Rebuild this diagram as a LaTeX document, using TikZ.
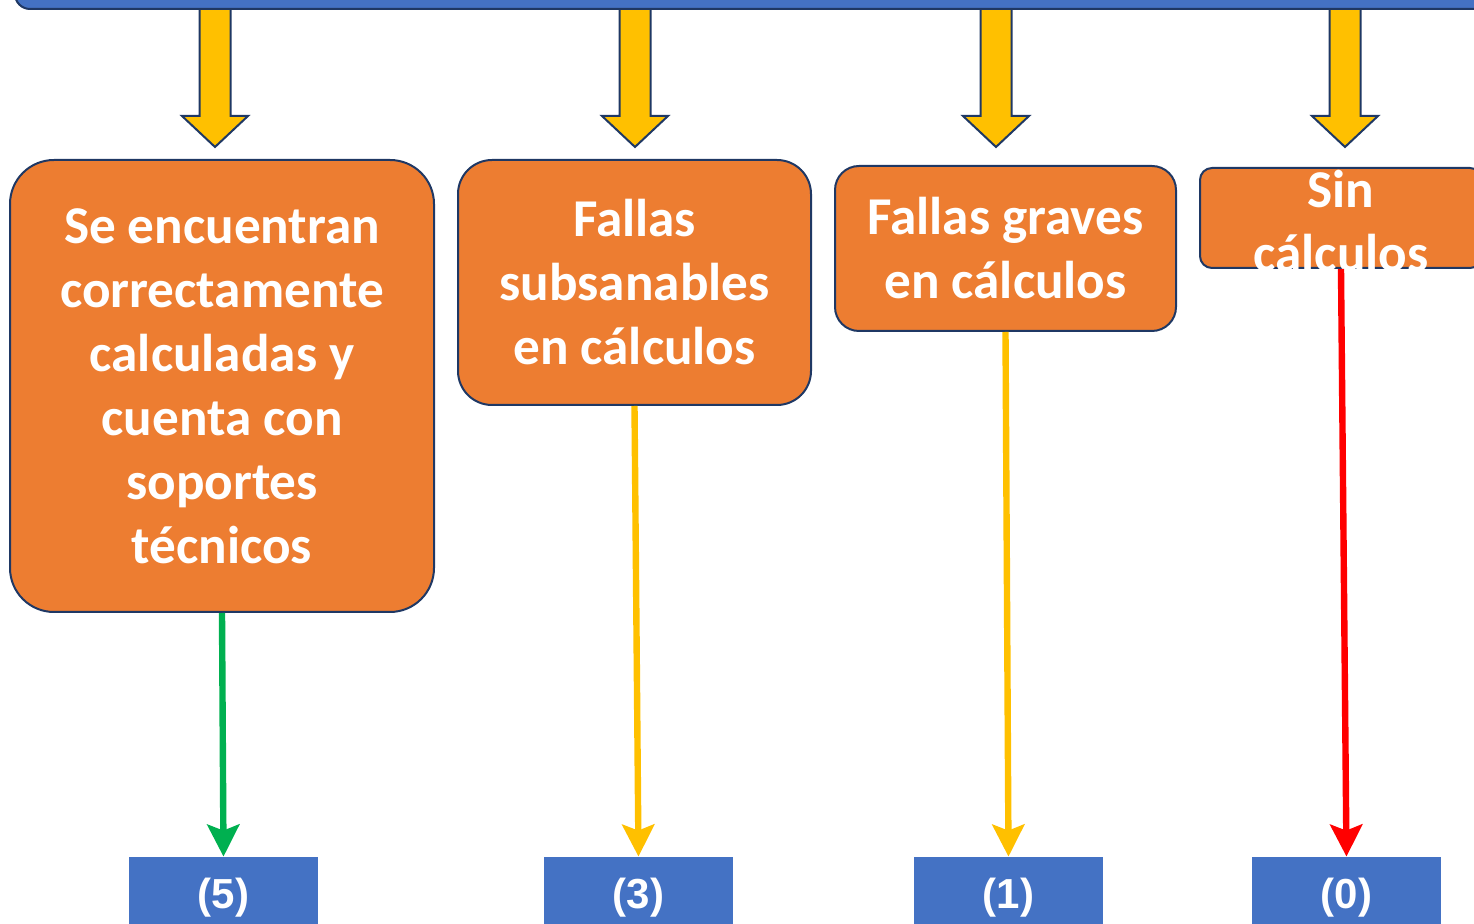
\documentclass[tikz,border=0pt]{standalone}
\usepackage{fontspec}
\setmainfont{Carlito}
\newfontfamily\numfont{Liberation Sans}
\usepackage{xcolor}
\usepackage{tikz}
\usetikzlibrary{arrows.meta,positioning}

\definecolor{boxorange}{HTML}{ED7D31}
\definecolor{barblue}{HTML}{4472C4}
\definecolor{navy}{HTML}{1F3864}
\definecolor{gold}{HTML}{FFC000}
\definecolor{okgreen}{HTML}{00B050}
\definecolor{badred}{HTML}{FF0000}

\begin{document}
\begin{tikzpicture}[x=0.5pt, y=-0.5pt,
    critbox/.style={draw=navy, line width=1pt, fill=boxorange, text=white,
        font=\fontsize{26.6pt}{32pt}\selectfont\bfseries, align=center, inner sep=0pt},
    scorebox/.style={fill=barblue, text=white, minimum width=94.5pt, minimum height=41pt,
        font=\numfont\fontsize{21pt}{24pt}\selectfont\bfseries, inner sep=0pt},
    blockarrow/.style={draw=navy, line width=1pt, fill=gold, line join=miter},
    result/.style={line width=3.2pt, -{Stealth[length=16pt, width=16pt, inset=3pt]}}]

    \useasboundingbox (0,0) rectangle (1474,924);
    \clip (0,0) rectangle (1474,924);

        % yellow block arrows (drawn first, the bar covers their tops)
        \foreach \x in {215, 635, 996, 1345} {
            \draw[blockarrow] (\x-15.5,2) -- (\x-15.5,116) -- (\x-33,116) -- (\x,147)
                -- (\x+33,116) -- (\x+15.5,116) -- (\x+15.5,2) -- cycle;
        }

        % top bar, mostly cut off
        \draw[draw=navy, line width=1pt, fill=barblue, rounded corners=7.5pt] (15,-60) rectangle (1540,9);

        % criteria boxes
        \node[critbox, minimum width=212pt, minimum height=226pt, rounded corners=22pt] (correct) at (222,386)
            {Se encuentran\\correctamente\\calculadas y\\cuenta con\\soportes\\técnicos};
        \node[critbox, minimum width=176.5pt, minimum height=122.5pt, rounded corners=17pt] (minor) at (634.5,282.5)
            {Fallas\\subsanables\\en cálculos};
        \node[critbox, minimum width=170.5pt, minimum height=82.5pt, rounded corners=12pt] (major) at (1005.5,248.5)
            {Fallas graves\\en cálculos};
        \node[critbox, minimum width=141pt, minimum height=50pt, rounded corners=6pt] (none) at (1341,218) {};
        \node[critbox, draw=none, fill=none] (nonetxt) at (1341,221) {Sin\\cálculos};

        % scores
        \node[scorebox] (score5) at (223.5,898) {(5)};
        \node[scorebox] (score3) at (638.5,898) {(3)};
        \node[scorebox] (score1) at (1008.5,898) {(1)};
        \node[scorebox] (score0) at (1346.5,898) {(0)};

        % result arrows
        \draw[result, okgreen] (correct.south) -- (score5.north);
        \draw[result, gold] (minor.south) -- (score3.north);
        \draw[result, gold] (major.south) -- (score1.north);
        \draw[result, badred] (none.south) -- (score0.north);

\end{tikzpicture}
\end{document}
